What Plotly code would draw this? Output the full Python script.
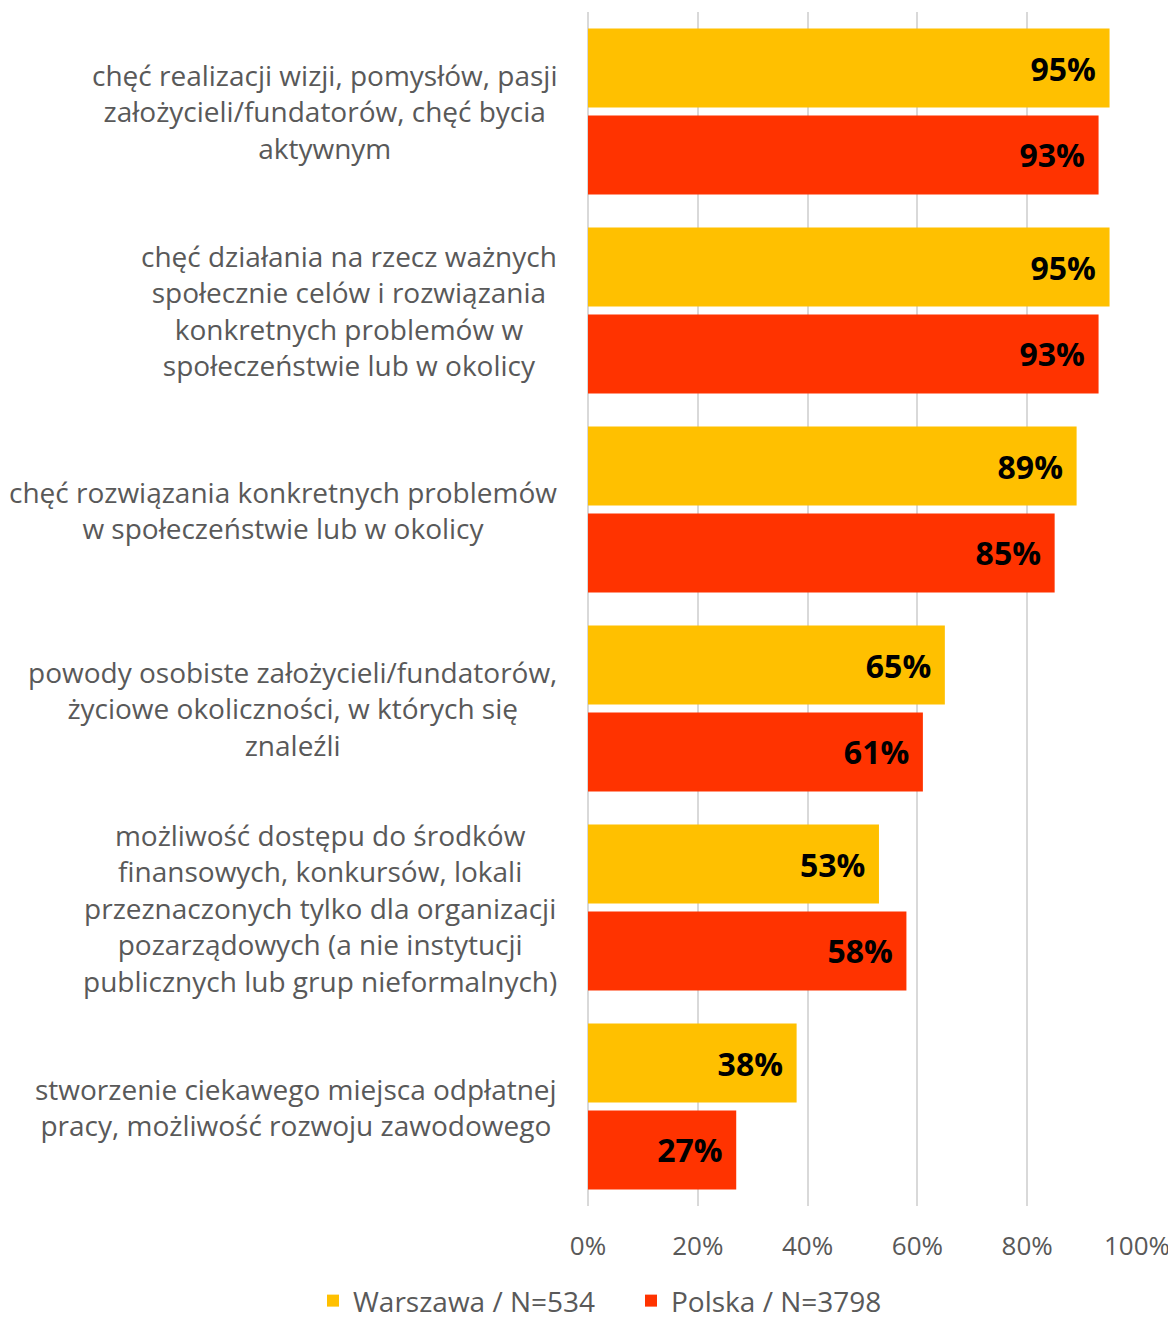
import plotly.graph_objects as go

categories = [
    "chęć realizacji wizji, pomysłów, pasji<br>założycieli/fundatorów, chęć bycia<br>aktywnym",
    "chęć działania na rzecz ważnych<br>społecznie celów i rozwiązania<br>konkretnych problemów w<br>społeczeństwie lub w okolicy",
    "chęć rozwiązania konkretnych problemów<br>w społeczeństwie lub w okolicy",
    "powody osobiste założycieli/fundatorów,<br>życiowe okoliczności, w których się<br>znaleźli",
    "możliwość dostępu do środków<br>finansowych, konkursów, lokali<br>przeznaczonych tylko dla organizacji<br>pozarządowych (a nie instytucji<br>publicznych lub grup nieformalnych)",
    "stworzenie ciekawego miejsca odpłatnej<br>pracy, możliwość rozwoju zawodowego",
]
cat_ids = [f"c{i}" for i in range(len(categories))]
warszawa = [95, 95, 89, 65, 53, 38]
polska = [93, 93, 85, 61, 58, 27]
series_names = ["Warszawa / N=534", "Polska / N=3798"]
tick_vals = [0, 20, 40, 60, 80, 100]
tick_text = ["0%", "20%", "40%", "60%", "80%", "100%"]

FONT = "Open Sans"
GRAY = "#595959"

fig = go.Figure()
for name, vals, color in [(series_names[0], warszawa, "#FFC000"),
                          (series_names[1], polska, "#FF3300")]:
    fig.add_trace(go.Bar(
        y=cat_ids, x=vals, orientation="h", name=name,
        marker=dict(color=color, line=dict(width=0)),
        text=[f"{v}%\u2009\u2009" for v in vals],
        textposition="inside", insidetextanchor="end",
        textfont=dict(family=FONT, size=32, color="black", weight="bold"),
        cliponaxis=False,
    ))

for cid, label in zip(cat_ids, categories):
    fig.add_annotation(
        x=0, xref="paper", y=cid, yref="y",
        xanchor="right", yanchor="middle", xshift=-29,
        text=label, align="center", showarrow=False,
        font=dict(family=FONT, size=28, color=GRAY),
    )

fig.update_layout(
    width=1168, height=1322,
    margin=dict(l=580, r=39, t=4, b=124, autoexpand=False),
    paper_bgcolor="white", plot_bgcolor="white",
    barmode="group", bargap=0.126, bargroupgap=0.092,
    showlegend=True,
    legend=dict(orientation="h", x=-0.5009, xanchor="left", y=-0.0795, yanchor="middle",
                font=dict(family=FONT, size=28, color=GRAY), traceorder="normal",
                itemwidth=30, entrywidth=273),
    xaxis=dict(range=[0, 100], tickmode="array", tickvals=tick_vals, ticktext=tick_text,
               showgrid=True, gridcolor="#D9D9D9", gridwidth=2,
               zeroline=True, zerolinecolor="#D9D9D9", zerolinewidth=2,
               showline=False, ticks="", ticklabelstandoff=22,
               tickfont=dict(family=FONT, size=26, color=GRAY)),
    yaxis=dict(categoryorder="array", categoryarray=cat_ids, autorange="reversed",
               showticklabels=False, showgrid=False, zeroline=False, showline=False),
)

fig.write_html("out.html")
